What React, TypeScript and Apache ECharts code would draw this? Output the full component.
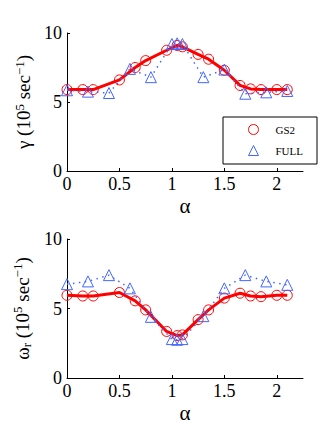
import React, { useEffect, useRef } from "react";
import * as echarts from "echarts";

const alphaGS2 = [0, 0.15, 0.25, 0.5, 0.65, 0.75, 0.95, 1.05, 1.1, 1.25, 1.35, 1.5, 1.65, 1.75, 1.85, 2.0, 2.1];
const gammaGS2 = [5.9, 5.9, 5.9, 6.6, 7.5, 8.0, 8.75, 9.1, 9.0, 8.45, 8.1, 7.3, 6.2, 5.95, 5.9, 5.9, 5.9];
const omegaGS2 = [5.95, 5.9, 5.9, 6.15, 5.55, 4.9, 3.35, 3.05, 3.1, 4.2, 4.9, 5.75, 6.1, 5.9, 5.85, 5.95, 5.95];

const alphaFULL = [0, 0.2, 0.4, 0.6, 0.8, 1.0, 1.05, 1.1, 1.3, 1.5, 1.7, 1.9, 2.1];
const gammaFULL = [5.85, 5.75, 5.65, 7.4, 6.8, 9.2, 9.25, 9.2, 6.8, 7.35, 5.6, 5.7, 5.8];
const omegaFULL = [6.75, 6.95, 7.4, 6.45, 4.4, 2.8, 2.75, 2.8, 4.45, 6.45, 7.4, 6.95, 6.7];

const xTicks = [0, 0.5, 1, 1.5, 2];
const yTicks = [0, 5, 10];

const RED = "#ff0000";
const BLUE = "#4466ff";
const SERIF = "Liberation Serif, Times New Roman, serif";

const zip = (xs: number[], ys: number[]) => xs.map((x, i) => [x, ys[i]]);

export default function App() {
  const ref = useRef<HTMLDivElement>(null);
  useEffect(() => {
    const chart = echarts.init(ref.current!, null, { renderer: "svg" });
    const xAxisBase = (gridIndex: number) => ({
      type: "value",
      gridIndex,
      min: 0,
      max: 2.25,
      interval: 0.5,
      name: "α",
      nameLocation: "middle",
      nameGap: 24,
      nameTextStyle: { fontFamily: SERIF, fontSize: 21, color: "#000" },
      axisLine: { show: true, onZero: false, lineStyle: { color: "#000", width: 1 } },
      axisTick: { show: true, inside: true, length: 3, customValues: xTicks, lineStyle: { color: "#000" } },
      axisLabel: { customValues: xTicks, fontFamily: SERIF, fontSize: 18, color: "#000", margin: 4 },
      splitLine: { show: false },
    });
    const rich = {
      m: { fontFamily: SERIF, fontSize: 19, lineHeight: 22, color: "#000" },
      s: { fontFamily: SERIF, fontSize: 13, lineHeight: 12, verticalAlign: "top", color: "#000" },
      b: { fontFamily: SERIF, fontSize: 13, lineHeight: 10, verticalAlign: "bottom", color: "#000" },
    };
    const yAxisBase = (gridIndex: number, name: string) => ({
      type: "value",
      gridIndex,
      min: 0,
      max: 10,
      interval: 5,
      name,
      nameLocation: "middle",
      nameGap: 30,
      nameTextStyle: { rich },
      axisLine: { show: true, onZero: false, lineStyle: { color: "#000", width: 1 } },
      axisTick: { show: true, inside: true, length: 3, customValues: yTicks, lineStyle: { color: "#000" } },
      axisLabel: { fontFamily: SERIF, fontSize: 18, color: "#000", margin: 5 },
      splitLine: { show: false },
    });
    const gsSeries = (idx: number, ys: number[], name: string) => ({
      type: "line",
      name,
      xAxisIndex: idx,
      yAxisIndex: idx,
      data: zip(alphaGS2, ys),
      symbol: "circle",
      symbolSize: 10,
      itemStyle: { color: "rgba(0,0,0,0)", borderColor: RED, borderWidth: 1 },
      lineStyle: { color: RED, width: 3 },
      z: 2,
    });
    const fullSeries = (idx: number, ys: number[], name: string) => ({
      type: "line",
      name,
      xAxisIndex: idx,
      yAxisIndex: idx,
      data: zip(alphaFULL, ys),
      symbol: "triangle",
      symbolSize: 11,
      itemStyle: { color: "rgba(0,0,0,0)", borderColor: BLUE, borderWidth: 1 },
      lineStyle: { color: BLUE, width: 1.5, type: [1.5, 4.5] },
      z: 3,
    });
    chart.setOption({
      animation: false,
      backgroundColor: "#fff",
      grid: [
        { left: 67, top: 33, width: 236, height: 138 },
        { left: 67, top: 239, width: 236, height: 139 },
      ],
      xAxis: [xAxisBase(0), xAxisBase(1)],
      yAxis: [
        yAxisBase(0, "{m|γ (10}{s|5}{m| sec}{s|−1}{m|)}"),
        yAxisBase(1, "{m|ω}{b|r}{m| (10}{s|5}{m| sec}{s|−1}{m|)}"),
      ],
      legend: {
        orient: "vertical",
        left: 223,
        top: 117,
        padding: [7, 14, 8, 25],
        itemWidth: 10,
        itemHeight: 10,
        itemGap: 10,
        borderColor: "#000",
        borderWidth: 1,
        backgroundColor: "#fff",
        textStyle: { fontFamily: SERIF, fontSize: 11, color: "#000", padding: [0, 0, 0, 12] },
        data: [
          { name: "GS2", icon: "circle", itemStyle: { color: "rgba(0,0,0,0)", borderColor: RED, borderWidth: 1 } },
          { name: "FULL", icon: "triangle", itemStyle: { color: "rgba(0,0,0,0)", borderColor: BLUE, borderWidth: 1 } },
        ],
        selectedMode: false,
      },
      series: [
        gsSeries(0, gammaGS2, "GS2"),
        fullSeries(0, gammaFULL, "FULL"),
        gsSeries(1, omegaGS2, "GS2 ω"),
        fullSeries(1, omegaFULL, "FULL ω"),
      ],
    });
    return () => chart.dispose();
  }, []);
  return (
    <div
      ref={ref}
      style={{ position: "fixed", left: 0, top: 0, width: 335, height: 436, background: "#fff" }}
    />
  );
}
